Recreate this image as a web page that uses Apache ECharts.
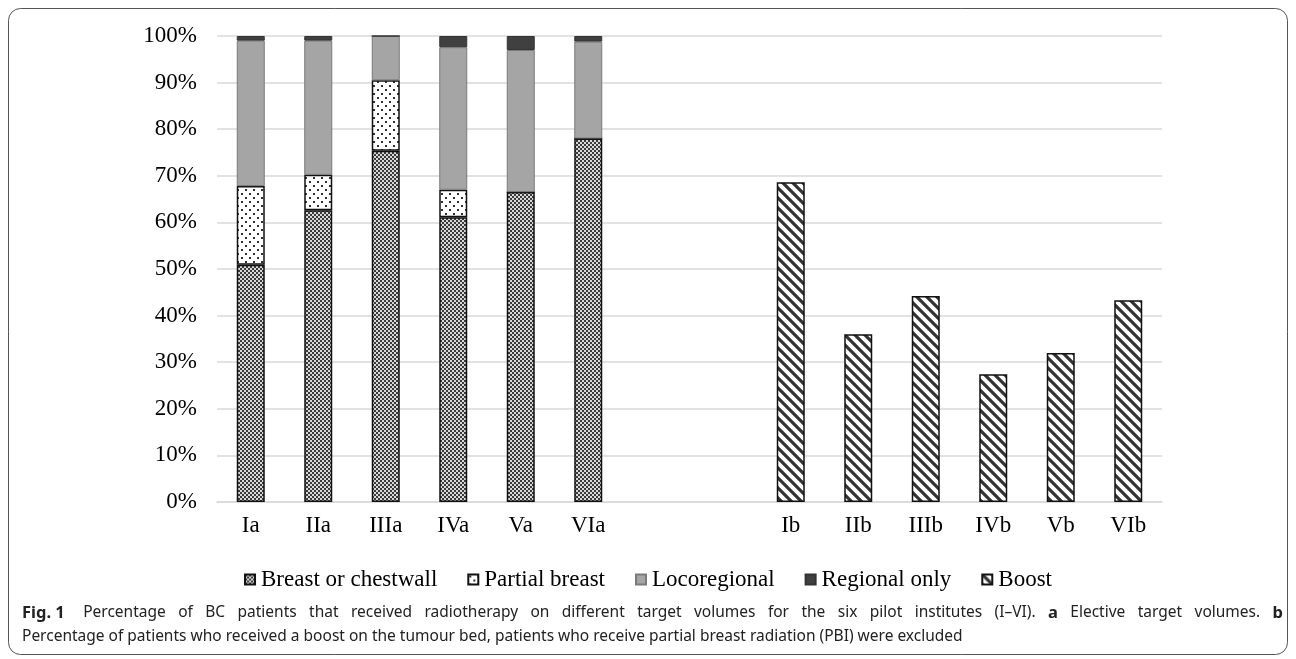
<!DOCTYPE html>
<html><head><meta charset="utf-8">
<script src="https://cdn.jsdelivr.net/npm/echarts@6/dist/echarts.min.js"></script>
<style>html,body{margin:0;padding:0;background:#fff}#c{width:1296px;height:659px}</style>
</head><body><div id="c"></div>
<script>
const categories = ['Ia','IIa','IIIa','IVa','Va','VIa','','','Ib','IIb','IIIb','IVb','Vb','VIb'];
const breast      = [50.9, 62.6, 75.4, 61.1, 66.5, 78.0, null, null, null, null, null, null, null, null];
const partial     = [16.9,  7.6, 15.1,  5.9,  0.0,  0.0, null, null, null, null, null, null, null, null];
const locoregional= [31.2, 28.8,  9.5, 30.6, 30.5, 20.8, null, null, null, null, null, null, null, null];
const regional    = [ 1.0,  1.0,  0.0,  2.4,  3.0,  1.2, null, null, null, null, null, null, null, null];
const boost       = [null, null, null, null, null, null, null, null, 68.6, 36.0, 44.2, 27.4, 32.0, 43.3];
const legendNames = ['Breast or chestwall','Partial breast','Locoregional','Regional only','Boost'];
const captionLine1 = [['Fig. 1',true],['Percentage',false],['of',false],['BC',false],['patients',false],['that',false],['received',false],['radiotherapy',false],['on',false],['different',false],['target',false],['volumes',false],['for',false],['the',false],['six',false],['pilot',false],['institutes',false],['(I–VI).',false],['a',true],['Elective',false],['target',false],['volumes.',false],['b',true]];
const captionLine2 = 'Percentage of patients who received a boost on the tumour bed, patients who receive partial breast radiation (PBI) were excluded';

function tile(w,h,draw){const c=document.createElement('canvas');c.width=w;c.height=h;const g=c.getContext('2d');g.fillStyle='#fff';g.fillRect(0,0,w,h);draw(g);return c;}
const checker = tile(4,4,g=>{g.fillStyle='#3a3a3a';g.fillRect(0,0,2,2);g.fillRect(2,2,2,2);g.fillStyle='#d8d8d8';g.fillRect(2,0,2,2);g.fillRect(0,2,2,2);});
const dots = tile(8,8,g=>{g.fillStyle='#333';g.fillRect(1,1,2,2);g.fillRect(5,5,2,2);});
const stripes = tile(10,10,g=>{g.strokeStyle='#333';g.lineWidth=3.2;g.beginPath();g.moveTo(-2,-2);g.lineTo(12,12);g.moveTo(-12,-2);g.lineTo(2,12);g.moveTo(8,-2);g.lineTo(22,12);g.stroke();});

const serif = '"Liberation Serif","Times New Roman",serif';
const sans = '"Noto Sans",sans-serif';

// justified caption line 1
const mc = document.createElement('canvas').getContext('2d');
function fontOf(bold){return (bold?'bold 16.5px ':'15.5px ')+sans;}
const capLeft = 22, capRight = 1283;
let widths = captionLine1.map(([t,b])=>{mc.font=fontOf(b);return mc.measureText(t).width;});
let sumW = widths.reduce((a,b)=>a+b,0);
const extraFirst = 6;
const gap = (capRight-capLeft-sumW-extraFirst)/(captionLine1.length-1);
let cx = capLeft;
const capGraphics = captionLine1.map(([t,b],i)=>{
  const g={type:'text',x:cx,y:613,style:{text:t,font:fontOf(b),fill:'#222',textVerticalAlign:'middle'}};
  cx += widths[i]+gap+(i===0?extraFirst:0);
  return g;
});

const chart = echarts.init(document.getElementById('c'));
function ser(name,data,color,border,bw){
  return {name,type:'bar',stack:'a',data,barWidth:28,
    itemStyle:{color,borderColor:border,borderWidth:bw},emphasis:{disabled:true}};
}
chart.setOption({
  animation:false,
  grid:{left:217,right:134,top:36,bottom:157},
  xAxis:{type:'category',data:categories,
    axisLine:{lineStyle:{color:'#d9d9d9',width:1.5}},axisTick:{show:false},
    axisLabel:{color:'#000',fontFamily:serif,fontSize:23,margin:12,interval:0}},
  yAxis:{type:'value',min:0,max:100,interval:10,
    axisLine:{show:false},axisTick:{show:false},
    splitLine:{lineStyle:{color:'#d9d9d9',width:1.5}},
    axisLabel:{formatter:v=>v+'%',color:'#000',fontFamily:serif,fontSize:23,margin:20}},
  legend:{top:563,left:'center',itemWidth:10,itemHeight:10,itemGap:30,icon:'rect',
    textStyle:{color:'#000',fontFamily:serif,fontSize:23,padding:[0,0,0,1]},
    data:legendNames},
  series:[
    ser(legendNames[0],breast,{image:checker,repeat:'repeat'},'#111',1.5),
    ser(legendNames[1],partial,{image:dots,repeat:'repeat'},'#111',1.5),
    ser(legendNames[2],locoregional,'#a5a5a5','#7a7a7a',1),
    ser(legendNames[3],regional,'#404040','#333',1),
    ser(legendNames[4],boost,{image:stripes,repeat:'repeat'},'#111',1.5)
  ],
  graphic:[
    {type:'rect',shape:{x:8.5,y:8.5,width:1279,height:646,r:12},style:{fill:'none',stroke:'#555',lineWidth:1}},
    ...capGraphics,
    {type:'text',x:22,y:637,style:{text:captionLine2,font:'15.5px '+sans,fill:'#222',textVerticalAlign:'middle'}}
  ]
});
</script></body></html>
